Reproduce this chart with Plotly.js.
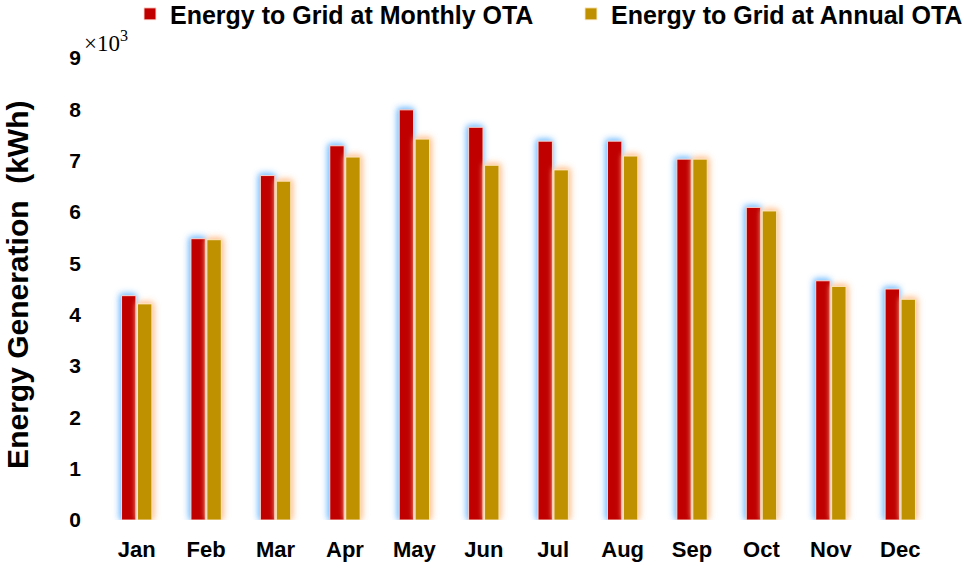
<!DOCTYPE html>
<html>
<head>
<meta charset="utf-8">
<script src="https://cdn.plot.ly/plotly-3.0.1.min.js"></script>
<style>
html,body{margin:0;padding:0;background:#fff;}
#chart{width:968px;height:564px;}
</style>
</head>
<body>
<div id="chart"></div>
<script>
const months = ["Jan","Feb","Mar","Apr","May","Jun","Jul","Aug","Sep","Oct","Nov","Dec"];
const monthlyOTA = [4.37,5.48,6.71,7.29,7.99,7.65,7.38,7.38,7.03,6.09,4.66,4.50];
const annualOTA  = [4.21,5.46,6.60,7.07,7.42,6.91,6.82,7.09,7.03,6.02,4.55,4.30];
const yTicks = [0,1,2,3,4,5,6,7,8,9];
const seriesNames = ["Energy to Grid at Monthly OTA","Energy to Grid at Annual OTA"];

const font = "Liberation Sans, Arial, sans-serif";
const legendFont = {family:font, size:25, color:"#000", weight:"bold"};

const traces = [
  {type:"bar", x:months, y:monthlyOTA, name:seriesNames[0], legend:"legend",
   marker:{color:"#C00000", line:{color:"rgba(255,225,215,0.9)", width:1}}},
  {type:"bar", x:months, y:annualOTA, name:seriesNames[1], legend:"legend2",
   marker:{color:"#BF9000", line:{color:"rgba(255,235,200,0.9)", width:1}}}
];

const layout = {
  width:968, height:564,
  margin:{l:102, r:33, t:58, b:44, autoexpand:false},
  paper_bgcolor:"#fff", plot_bgcolor:"#fff",
  barmode:"group", bargap:0.54, bargroupgap:0.1,
  showlegend:true,
  legend:{orientation:"h", x:0.0336, y:1.095, xanchor:"left", yanchor:"middle",
          font:legendFont, itemwidth:30, bgcolor:"rgba(0,0,0,0)"},
  legend2:{orientation:"h", x:0.563, y:1.095, xanchor:"left", yanchor:"middle",
          font:legendFont, itemwidth:30, bgcolor:"rgba(0,0,0,0)"},
  xaxis:{tickvals:months, ticktext:months, showgrid:false, showline:false, zeroline:false,
         ticks:"", ticklabelstandoff:14,
         tickfont:{family:font, size:22, color:"#000", weight:"bold"}},
  yaxis:{range:[0,9], tickvals:yTicks, ticktext:yTicks.map(String), showgrid:false, showline:false,
         zeroline:false, ticks:"", ticklabelstandoff:20,
         tickfont:{family:font, size:21, color:"#000", weight:"bold"}},
  annotations:[
    {xref:"paper", yref:"paper", x:-0.1008, y:0.509, xanchor:"center", yanchor:"middle",
     textangle:-90, showarrow:false, text:"Energy Generation\u00a0 (kWh)",
     font:{family:font, size:30, color:"#000", weight:"bold"}},
    {xref:"paper", yref:"paper", x:-0.024, y:1.036, xanchor:"left", yanchor:"middle",
     showarrow:false, text:"×10<sup>3</sup>",
     font:{family:"Liberation Serif, Times New Roman, serif", size:23, color:"#000"}}
  ]
};

Plotly.newPlot("chart", traces, layout, {displayModeBar:false, staticPlot:true}).then(function(){
  const groups = document.querySelectorAll(".barlayer .trace");
  if (groups[0]) groups[0].style.filter = "drop-shadow(-1px -1px 3px rgba(120,190,255,1)) drop-shadow(0 0 2px rgba(170,215,255,0.9))";
  if (groups[1]) groups[1].style.filter = "drop-shadow(1px -1px 3px rgba(255,190,140,0.95)) drop-shadow(0 0 2px rgba(255,215,180,0.8))";
});
</script>
</body>
</html>
